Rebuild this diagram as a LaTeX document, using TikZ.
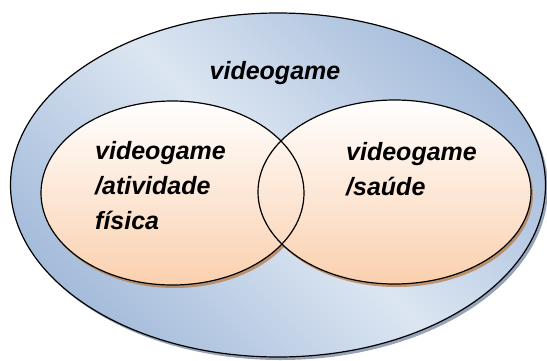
\documentclass[tikz,border=0pt]{standalone}
\usepackage{fontspec}
\setmainfont{Liberation Sans}
\usetikzlibrary{shapes.geometric,shadows}
\definecolor{outerL}{HTML}{DCE6F2}
\definecolor{outerD}{HTML}{A5BCDB}
\definecolor{innerB}{HTML}{FAD0AE}
\definecolor{outerSh}{HTML}{7D8CA6}
\definecolor{innerSh}{HTML}{B87A45}
\tikzset{
  outerset/.style={ellipse, inner sep=0pt, draw=black, line width=1.2pt,
    shading=axis, top color=outerD, bottom color=outerD, middle color=outerL, shading angle=-45,
    drop shadow={shadow xshift=2.5pt, shadow yshift=-3pt, fill=outerSh, opacity=0.8}},
  innerfill/.style={ellipse, inner sep=0pt, draw=none,
    top color=white, bottom color=innerB,
    drop shadow={shadow xshift=2pt, shadow yshift=-3pt, fill=innerSh, opacity=0.75}},
  inneredge/.style={ellipse, inner sep=0pt, draw=black, line width=1.2pt},
  lbl/.style={font=\fontsize{25}{35}\selectfont\bfseries\itshape, inner sep=0pt, align=left}
}
\begin{document}
\begin{tikzpicture}[x=1pt,y=-1pt]
\useasboundingbox (0,0) rectangle (547,360);
\node[outerset, minimum width=535pt, minimum height=344pt] (all) at (278,185) {};
\node[innerfill, minimum width=263pt, minimum height=184pt] (leftf) at (172.5,193) {};
\node[innerfill, minimum width=273pt, minimum height=184pt] (rightf) at (394.5,192) {};
\node[inneredge, minimum width=263pt, minimum height=184pt] (left) at (172.5,193) {};
\node[inneredge, minimum width=273pt, minimum height=184pt] (right) at (394.5,192) {};
\node[lbl, anchor=base] (tall) at (275,79) {videogame};
\node[lbl, anchor=north west] (tleft) at (95,141) {videogame\\/atividade\\física};
\node[lbl, anchor=north west] (tright) at (346,142) {videogame\\/saúde};
\end{tikzpicture}
\end{document}
